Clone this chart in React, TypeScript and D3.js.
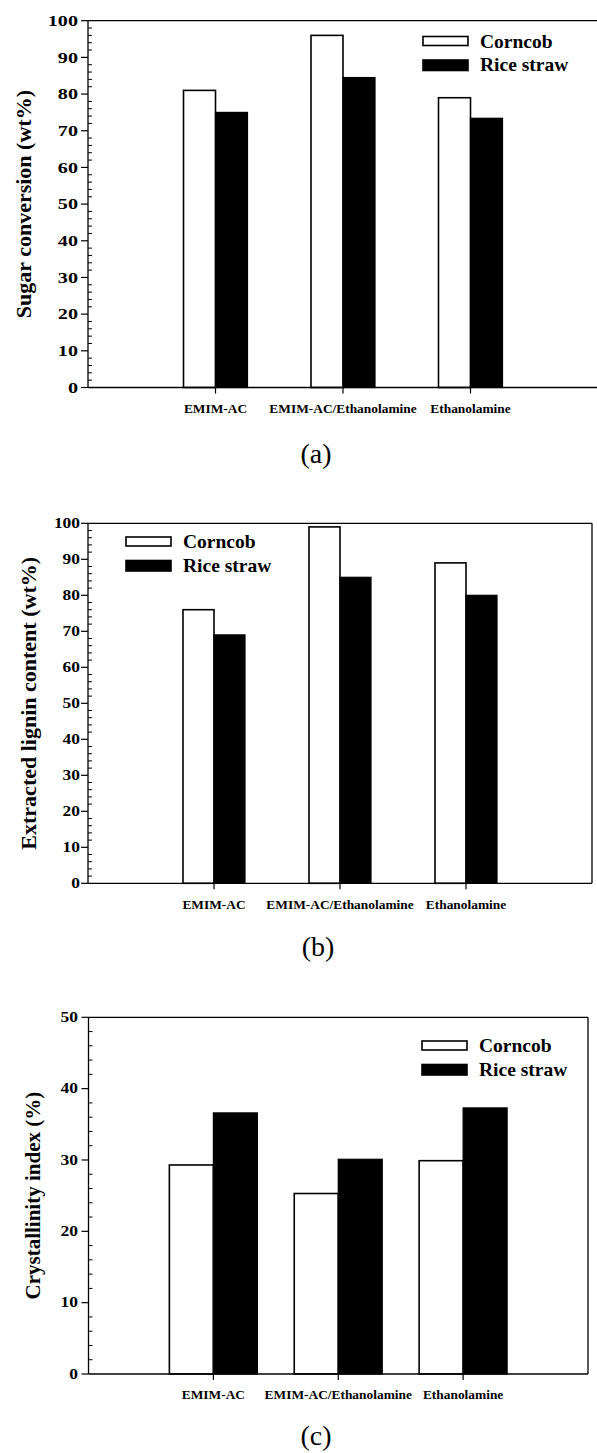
import * as d3 from 'd3';

// categories on the x axis (same for all three panels)
const categories = ['EMIM-AC', 'EMIM-AC/Ethanolamine', 'Ethanolamine'];
const seriesNames = ['Corncob', 'Rice straw'];

// (a) sugar conversion, wt%
const sugarCorncob = [81, 96, 79];
const sugarRice = [75, 84.5, 73.4];

// (b) extracted lignin content, wt%
const ligninCorncob = [76, 99, 89];
const ligninRice = [69, 85, 80];

// (c) crystallinity index, %
const crystCorncob = [29.3, 25.3, 29.9];
const crystRice = [36.6, 30.1, 37.3];

const FONT = '"Liberation Serif", "Times New Roman", serif';

type PanelProps = {
  corncob: number[];
  rice: number[];
  yMax: number;
  yTitle: string;
  caption: string;
  left: number;
  right: number;
  top: number;
  bottom: number;
  closeRight: boolean;
  barW: number;
  tickFont: number;
  tickStretch: number;
  labelRight: number;
  titleX: number;
  titleFont: number;
  xLabelY: number;
  captionX: number;
  captionY: number;
  legendX: number;
  legendY: number;
};

const Panel = (p: PanelProps) => {
  const x = d3.scaleLinear().domain([0, 4]).range([p.left, p.right]);
  const y = d3.scaleLinear().domain([0, p.yMax]).range([p.bottom, p.top]);
  const majors = d3.range(0, p.yMax + 1, 10);
  const minors = d3.range(0, p.yMax + 0.1, 2).filter(v => v % 10 !== 0);
  const titleY = (p.top + p.bottom) / 2;

  return (
    <g>
      {/* bars */}
      {categories.map((c, i) => {
        const cx = x(i + 1);
        return (
          <g key={c}>
            <rect x={cx - p.barW} y={y(p.corncob[i])} width={p.barW}
              height={y(0) - y(p.corncob[i])} fill="#fff" stroke="#000" strokeWidth={1.6} />
            <rect x={cx} y={y(p.rice[i])} width={p.barW}
              height={y(0) - y(p.rice[i])} fill="#000" stroke="#000" strokeWidth={1.2} />
          </g>
        );
      })}

      {/* frame */}
      <line x1={p.left} x2={p.right} y1={p.top} y2={p.top} stroke="#000" strokeWidth={1.3} />
      <line x1={p.left} x2={p.right} y1={p.bottom} y2={p.bottom} stroke="#000" strokeWidth={1.3} />
      <line x1={p.left} x2={p.left} y1={p.top} y2={p.bottom} stroke="#000" strokeWidth={1.3} />
      {p.closeRight && (
        <line x1={p.right} x2={p.right} y1={p.top} y2={p.bottom} stroke="#000" strokeWidth={1.3} />
      )}

      {/* y ticks */}
      {majors.map(v => (
        <g key={'M' + v}>
          <line x1={p.left - 7} x2={p.left} y1={y(v)} y2={y(v)} stroke="#000" strokeWidth={1.2} />
          <text transform={`translate(${p.labelRight},${y(v)}) scale(${p.tickStretch},1)`}
            dy="0.34em" textAnchor="end" fontFamily={FONT} fontWeight="bold"
            fontSize={p.tickFont}>{v}</text>
        </g>
      ))}
      {minors.map(v => (
        <line key={'m' + v} x1={p.left} x2={p.left + 4} y1={y(v)} y2={y(v)} stroke="#000" strokeWidth={1} />
      ))}

      {/* x ticks and labels */}
      {categories.map((c, i) => (
        <g key={'x' + c}>
          <line x1={x(i + 1)} x2={x(i + 1)} y1={p.bottom} y2={p.bottom + 6} stroke="#000" strokeWidth={1.2} />
          <text x={x(i + 1)} y={p.xLabelY} textAnchor="middle" fontFamily={FONT}
            fontWeight="bold" fontSize={13.4}>{c}</text>
        </g>
      ))}

      {/* y title */}
      <text transform={`translate(${p.titleX},${titleY}) rotate(-90)`} textAnchor="middle"
        fontFamily={FONT} fontWeight="bold" fontSize={p.titleFont}>{p.yTitle}</text>

      {/* legend */}
      {seriesNames.map((s, i) => (
        <g key={s} transform={`translate(${p.legendX},${p.legendY + i * 23.5})`}>
          <rect x={0} y={0} width={45} height={i === 0 ? 9 : 10.5}
            fill={i === 0 ? '#fff' : '#000'} stroke="#000" strokeWidth={1.6} />
          <text x={57} y={11} fontFamily={FONT} fontWeight="bold" fontSize={19.5}>{s}</text>
        </g>
      ))}

      {/* caption */}
      <text x={p.captionX} y={p.captionY} textAnchor="middle" fontFamily={FONT} fontSize={28}>
        {p.caption}
      </text>
    </g>
  );
};

export default function App() {
  return (
    <svg width={597} height={1453} viewBox="0 0 597 1453"
      style={{ position: 'absolute', left: 0, top: 0, background: '#fff' }}>
      <rect width={597} height={1453} fill="#fff" />
      <Panel corncob={sugarCorncob} rice={sugarRice} yMax={100}
        yTitle="Sugar conversion (wt%)" caption="(a)"
        left={88} right={598} top={20.7} bottom={387.5} closeRight={false} barW={32}
        tickFont={15.5} tickStretch={1.3} labelRight={78} titleX={31} titleFont={22}
        xLabelY={413} captionX={316} captionY={463} legendX={423} legendY={36.5} />
      <Panel corncob={ligninCorncob} rice={ligninRice} yMax={100}
        yTitle="Extracted lignin content (wt%)" caption="(b)"
        left={88} right={592} top={523.3} bottom={883.3} closeRight={true} barW={31}
        tickFont={14.5} tickStretch={1.2} labelRight={80} titleX={36} titleFont={22}
        xLabelY={909} captionX={318} captionY={956} legendX={126} legendY={537} />
      <Panel corncob={crystCorncob} rice={crystRice} yMax={50}
        yTitle="Crystallinity index (%)" caption="(c)"
        left={88.5} right={588} top={1017.3} bottom={1374} closeRight={true} barW={44}
        tickFont={14} tickStretch={1.25} labelRight={78} titleX={40} titleFont={21}
        xLabelY={1399} captionX={316} captionY={1445} legendX={422} legendY={1041} />
    </svg>
  );
}
